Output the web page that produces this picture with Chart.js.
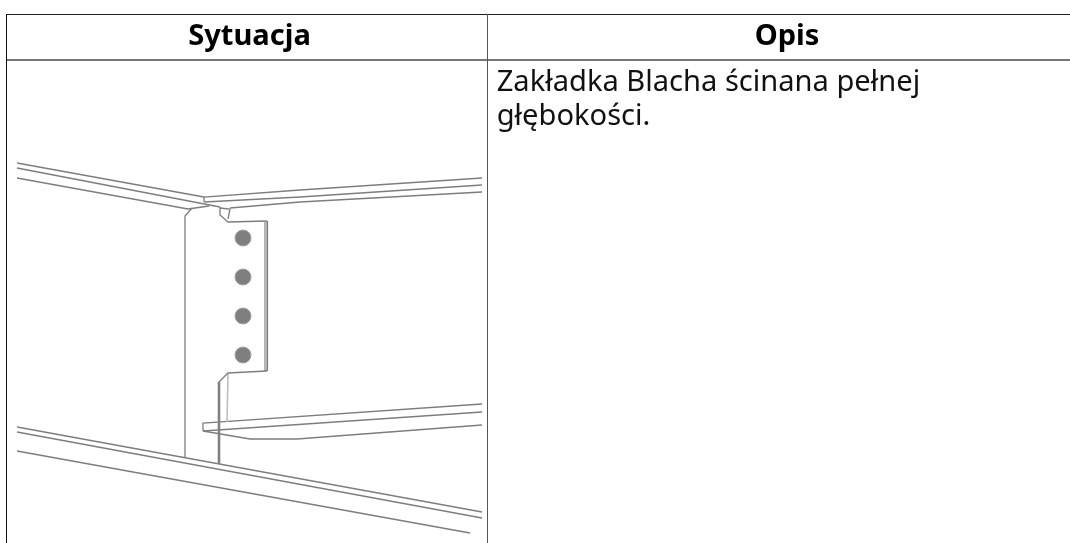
<!DOCTYPE html>
<html lang="pl">
<head>
<meta charset="utf-8">
<title>Sytuacja</title>
<script src="https://cdn.jsdelivr.net/npm/chart.js@4"></script>
<style>
html, body { margin: 0; padding: 0; background: #fff; width: 1070px; height: 543px; overflow: hidden; }
#myChart { position: absolute; left: 0; top: 0; }
.cell { position: absolute; font-family: "Noto Sans", sans-serif; font-size: 29.1px; line-height: 34px; color: #111; white-space: nowrap; }
.head { top: 14px; line-height: 40px; font-weight: bold; text-align: center; color: #000; }
.rule { position: absolute; }
</style>
</head>
<body>
<canvas id="myChart" width="1070" height="543"></canvas>
<div class="rule" style="left:6px;top:14px;width:1064px;height:1px;background:#222"></div>
<div class="rule" style="left:6px;top:59px;width:1064px;height:2px;background:#777"></div>
<div class="rule" style="left:6px;top:14px;width:1px;height:529px;background:#111"></div>
<div class="rule" style="left:486.5px;top:14px;width:1.2px;height:529px;background:#555"></div>
<div class="cell head" id="head1" style="left:7px;width:485px"></div>
<div class="cell head" id="head2" style="left:488px;width:598px"></div>
<div class="cell" id="desc" style="left:496.7px;top:63px;width:560px"></div>
<script>
var headers = ['Sytuacja', 'Opis'];
var description = 'Zakładka Blacha ścinana pełnej<br>głębokości.';

// drawing lines in picture units
var topLeftBeam = [
    [{ x: 17, y: 163 }, { x: 204, y: 197 }],
    [{ x: 17, y: 168 }, { x: 220, y: 207 }],
    [{ x: 17, y: 178 }, { x: 188, y: 209 }, { x: 209, y: 206 }]
];
var topRightBeam = [
    [{ x: 204, y: 202 }, { x: 204, y: 197 }, { x: 300, y: 190 }, { x: 482, y: 178 }],
    [{ x: 204, y: 202 }, { x: 300, y: 197 }, { x: 482, y: 185 }],
    [{ x: 230, y: 208 }, { x: 300, y: 202 }, { x: 482, y: 192 }]
];
var plateEdges = [
    [{ x: 192, y: 208 }, { x: 185, y: 216 }, { x: 185, y: 457 }],
    [{ x: 220, y: 207 }, { x: 220, y: 215 }, { x: 228, y: 222 }, { x: 267, y: 221 }],
    [{ x: 220, y: 208 }, { x: 230, y: 209 }, { x: 228, y: 219 }],
    [{ x: 267, y: 371 }, { x: 228, y: 373 }, { x: 219, y: 382 }]
];
var plateThick = [
    [{ x: 219, y: 382 }, { x: 219, y: 464 }]
];
var plateRightShade = [
    [{ x: 265.5, y: 222 }, { x: 265.5, y: 371 }]
];
var plateRightEdge = [
    [{ x: 267.5, y: 221 }, { x: 267.5, y: 371 }]
];
var plateLight = [
    [{ x: 228, y: 374 }, { x: 227, y: 422 }]
];
var bottomRightBeam = [
    [{ x: 203, y: 431 }, { x: 203, y: 423 }, { x: 482, y: 404 }],
    [{ x: 203, y: 431 }, { x: 482, y: 412 }],
    [{ x: 203, y: 431 }, { x: 250, y: 439 }, { x: 297, y: 439 }, { x: 482, y: 425 }]
];
var bottomLeftBeam = [
    [{ x: 17, y: 427 }, { x: 482, y: 512 }],
    [{ x: 17, y: 432 }, { x: 482, y: 518 }],
    [{ x: 17, y: 451 }, { x: 470, y: 533 }]
];
var bolts = [{ x: 243, y: 238 }, { x: 243, y: 277 }, { x: 243, y: 316 }, { x: 243, y: 355 }];

document.getElementById('head1').textContent = headers[0];
document.getElementById('head2').textContent = headers[1];
document.getElementById('desc').innerHTML = description;

function lineSets(lines, color, width) {
    return lines.map(function (pts) {
        return {
            data: pts,
            showLine: true,
            pointRadius: 0,
            borderColor: color,
            borderWidth: width,
            tension: 0
        };
    });
}

var datasets = []
    .concat(lineSets(topLeftBeam, '#7d7d7d', 1.3))
    .concat(lineSets(topRightBeam, '#7d7d7d', 1.3))
    .concat(lineSets(plateEdges, '#7d7d7d', 1.3))
    .concat(lineSets(plateThick, '#808080', 2.6))
    .concat(lineSets(plateRightShade, '#b5b5b5', 3))
    .concat(lineSets(plateRightEdge, '#7d7d7d', 1.2))
    .concat(lineSets(plateLight, '#bbbbbb', 1.5))
    .concat(lineSets(bottomRightBeam, '#7d7d7d', 1.3))
    .concat(lineSets(bottomLeftBeam, '#7d7d7d', 1.3));

datasets.push({
    data: bolts,
    pointRadius: 8,
    pointBackgroundColor: '#7f7f7f',
    pointBorderColor: '#a0a0a0',
    pointBorderWidth: 1
});

var ctx = document.getElementById('myChart').getContext('2d');
var myChart = new Chart(ctx, {
    type: 'scatter',
    data: { datasets: datasets },
    options: {
        responsive: false,
        animation: false,
        plugins: {
            legend: { display: false },
            tooltip: { enabled: false }
        },
        layout: { padding: 0, autoPadding: false },
        scales: {
            x: { display: false, min: 0, max: 1070 },
            y: { display: false, min: 0, max: 543, reverse: true }
        }
    }
});
</script>
</body>
</html>
